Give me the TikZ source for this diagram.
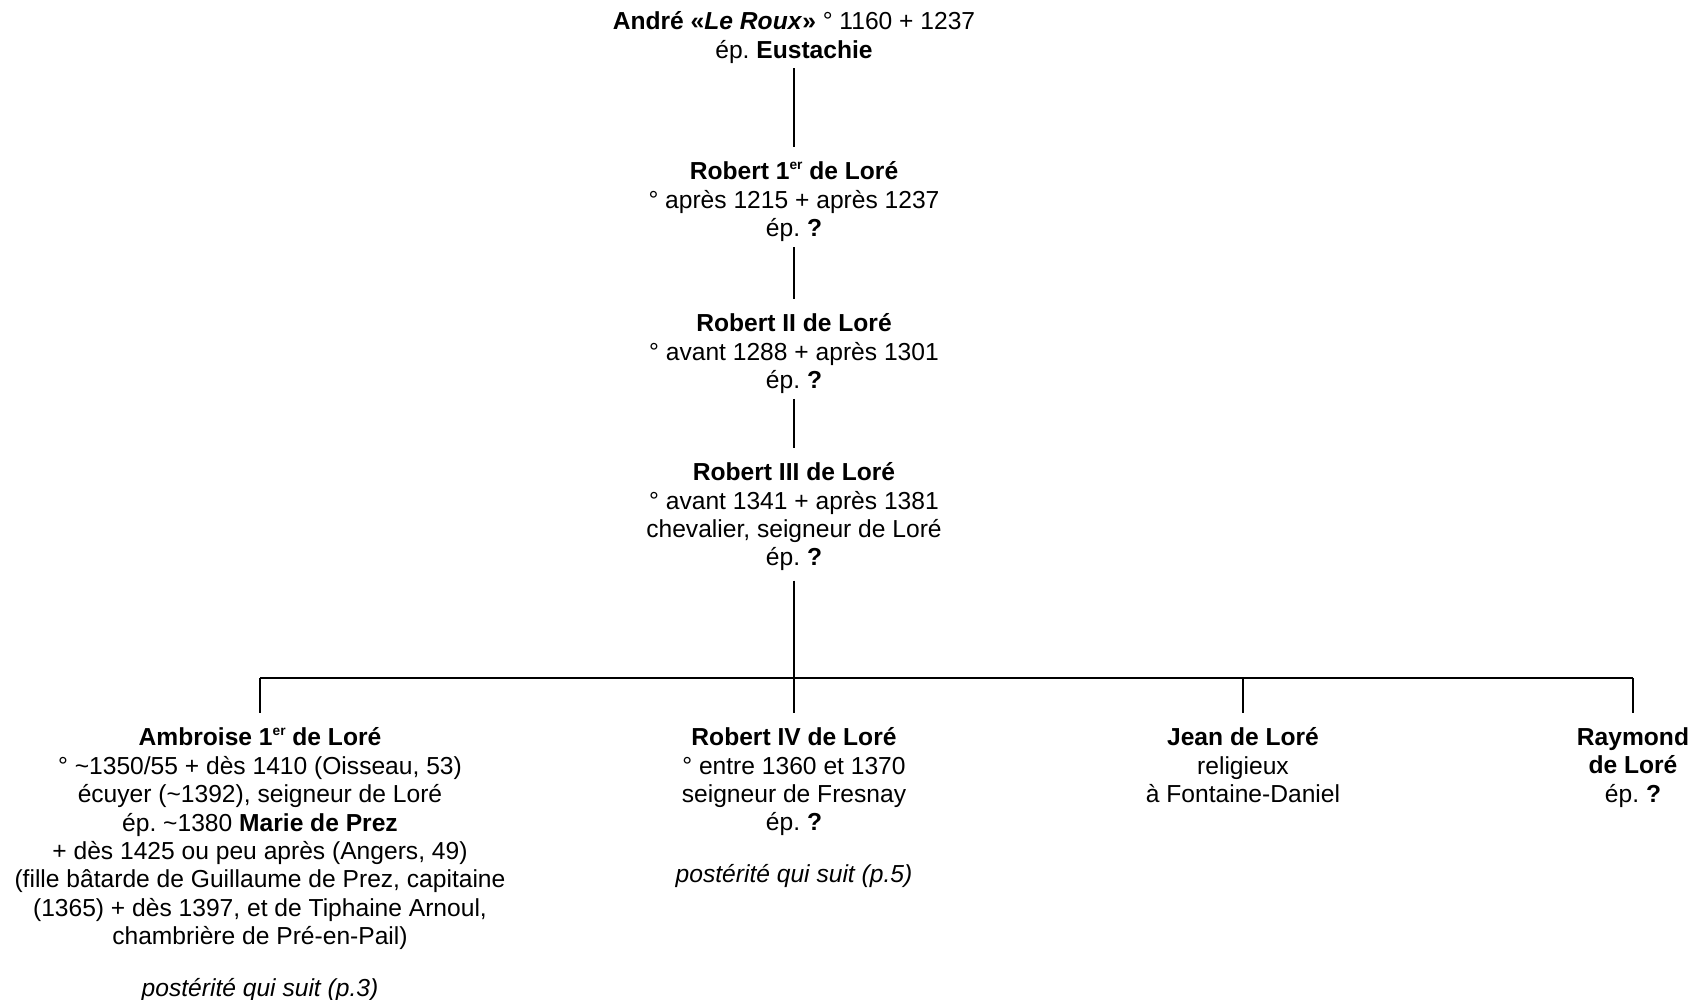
\documentclass[tikz,border=0pt]{standalone}
\usepackage{fontspec}
\setmainfont{Liberation Sans}
\usepackage{tikz}
\usetikzlibrary{positioning}
\frenchspacing

\newcommand{\exposant}[1]{\raisebox{0.44em}{\fontsize{3.9}{4}\selectfont #1}}

\tikzset{
	person/.style={align=center, inner sep=0pt, anchor=north, font=\fontsize{7}{8.08}\selectfont},
	suite/.style={inner sep=0pt, font=\fontsize{7}{8.08}\selectfont\itshape},
	link/.style={line width=0.75pt, shorten <=0.45mm, shorten >=1.4mm}
}

\begin{document}
\begin{tikzpicture}
	\useasboundingbox (0,0) rectangle (17.08,-10);

	\node[person] (andre) at (7.94,-0.11) {\textbf{André «\textit{Le Roux}»} ° 1160 + 1237\\ép. \textbf{Eustachie}};
	\node[person] (rob1) at (7.94,-1.61) {\textbf{Robert 1\exposant{er} de Loré}\\° après 1215 + après 1237\\ép. \textbf{?}};
	\node[person] (rob2) at (7.94,-3.13) {\textbf{Robert II de Loré}\\° avant 1288 + après 1301\\ép. \textbf{?}};
	\node[person] (rob3) at (7.94,-4.62) {\textbf{Robert III de Loré}\\° avant 1341 + après 1381\\chevalier, seigneur de Loré\\ép. \textbf{?}};

	% enfants de Robert III
	\node[person] (amb) at (2.60,-7.27) {\textbf{Ambroise 1\exposant{er} de Loré}\\° \textasciitilde1350/55 + dès 1410 (Oisseau, 53)\\écuyer (\textasciitilde1392), seigneur de Loré\\ép. \textasciitilde1380 \textbf{Marie de Prez}\\+ dès 1425 ou peu après (Angers, 49)\\(fille bâtarde de Guillaume de Prez, capitaine\\(1365) + dès 1397, et de Tiphaine Arnoul,\\chambrière de Pré-en-Pail)};
	\node[person] (rob4) at (7.94,-7.27) {\textbf{Robert IV de Loré}\\° entre 1360 et 1370\\seigneur de Fresnay\\ép. \textbf{?}};
	\node[person] (jean) at (12.43,-7.27) {\textbf{Jean de Loré}\\religieux\\à Fontaine-Daniel};
	\node[person] (ray) at (16.33,-7.27) {\textbf{Raymond}\\\textbf{de Loré}\\ép. \textbf{?}};

	\node[suite, below=0.27cm of amb] (ambsuite) {postérité qui suit (p.3)};
	\node[suite, below=0.27cm of rob4] (rob4suite) {postérité qui suit (p.5)};

	\draw[link] (andre.south) -- (rob1.north);
	\draw[link] (rob1.south) -- (rob2.north);
	\draw[link] (rob2.south) -- (rob3.north);

	\coordinate (bar) at (0,-6.78);
	\draw[line width=0.75pt, shorten <=0.9mm] (rob3.south) -- (rob3.south |- bar);
	\draw[line width=0.75pt] (amb |- bar) -- (ray |- bar);
	\foreach \enfant in {amb,rob4,jean,ray}
		\draw[link, shorten <=0pt] (\enfant |- bar) -- (\enfant.north);
\end{tikzpicture}
\end{document}
